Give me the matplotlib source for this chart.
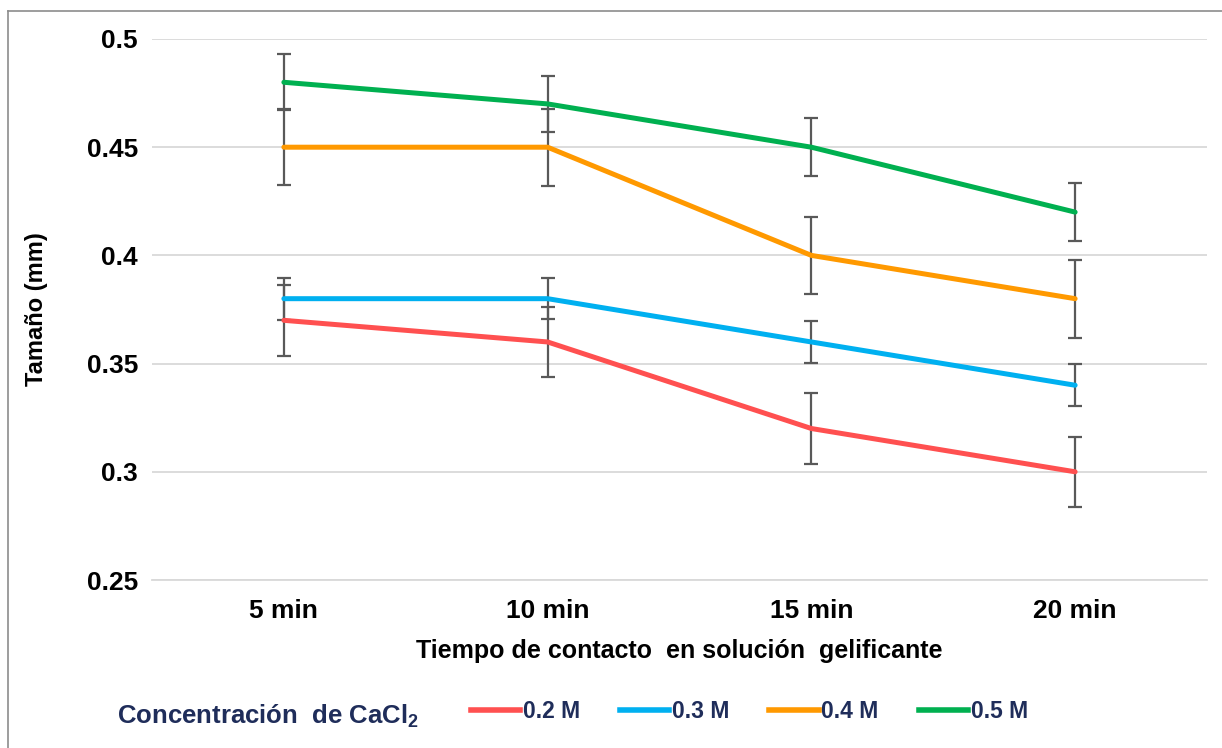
import matplotlib.pyplot as plt
from matplotlib.lines import Line2D

tiempos = ['5 min', '10 min', '15 min', '20 min']
conc = ['0.2 M', '0.3 M', '0.4 M', '0.5 M']
t_02 = [0.37, 0.36, 0.32, 0.30]
t_03 = [0.38, 0.38, 0.36, 0.34]
t_04 = [0.45, 0.45, 0.40, 0.38]
t_05 = [0.48, 0.47, 0.45, 0.42]
err_02 = [0.0165, 0.016, 0.0162, 0.0162]
err_03 = [0.0097, 0.0095, 0.0097, 0.0097]
err_04 = [0.0175, 0.0178, 0.0177, 0.018]
err_05 = [0.013, 0.013, 0.0134, 0.0134]
colores = ['#FF5050', '#00B0F0', '#FF9900', '#00B050']

plt.rcParams['font.family'] = ['Liberation Sans', 'DejaVu Sans']
plt.rcParams['font.weight'] = 'bold'
plt.rcParams['axes.labelweight'] = 'bold'
plt.rcParams['mathtext.fontset'] = 'custom'
plt.rcParams['mathtext.rm'] = 'Liberation Sans:bold'
plt.rcParams['mathtext.bf'] = 'Liberation Sans:bold'

fig = plt.figure(figsize=(12.22, 7.48), dpi=100)
ax = fig.add_axes([152 / 1222, 1 - 580 / 748, 1055 / 1222, 541 / 748])

x = list(range(len(tiempos)))
series = [t_02, t_03, t_04, t_05]
errores = [err_02, err_03, err_04, err_05]
for y, e, c in zip(series, errores, colores):
    ax.errorbar(x, y, yerr=e, color=c, lw=3.6, ecolor='#595959', elinewidth=1.6,
                capsize=5, capthick=1.6, solid_capstyle='round', zorder=3)

ax.set_xlim(-0.5, 3.5)
ax.set_ylim(0.25, 0.5)
ax.set_yticks([0.25, 0.3, 0.35, 0.4, 0.45, 0.5])
ax.set_yticklabels(['0.25', '0.3', '0.35', '0.4', '0.45', '0.5'])
ax.set_xticks(x)
ax.set_xticklabels(tiempos)
ax.tick_params(length=0, labelsize=19, pad=14)
ax.tick_params(axis='y', pad=10)
ax.grid(axis='y', color='#D9D9D9', lw=1.3)
ax.set_axisbelow(True)
for s in ['top', 'right', 'left']:
    ax.spines[s].set_visible(False)
ax.spines['bottom'].set_color('#D9D9D9')
ax.spines['bottom'].set_linewidth(1.3)

ax.set_xlabel('Tiempo de contacto  en solución  gelificante', fontsize=18, labelpad=11)
ax.set_ylabel('Tamaño (mm)', fontsize=17)
ax.yaxis.set_label_coords(-0.099, 0.5)

# leyenda estilo Excel
handles = [Line2D([], [], color=c, lw=4) for c in colores]
fig.legend(handles, conc, loc='center left', bbox_to_anchor=(450 / 1222, 1 - 712 / 748),
           ncol=4, frameon=False, fontsize=16.5, handlelength=2.15, handletextpad=0.12,
           columnspacing=1.75, labelcolor='#1F2D5A')
fig.text(117 / 1222, 1 - 716 / 748, 'Concentración  de CaCl$_2$', fontsize=18.5,
         color='#1F2D5A', va='center', ha='left')

# marco del grafico
fig.add_artist(Line2D([8 / 1222, 8 / 1222], [0, 1 - 11 / 748], color='#8C8C8C', lw=1.2))
fig.add_artist(Line2D([8 / 1222, 1], [1 - 11 / 748, 1 - 11 / 748], color='#8C8C8C', lw=1.2))

plt.savefig('out.png', dpi=100)
plt.close()
